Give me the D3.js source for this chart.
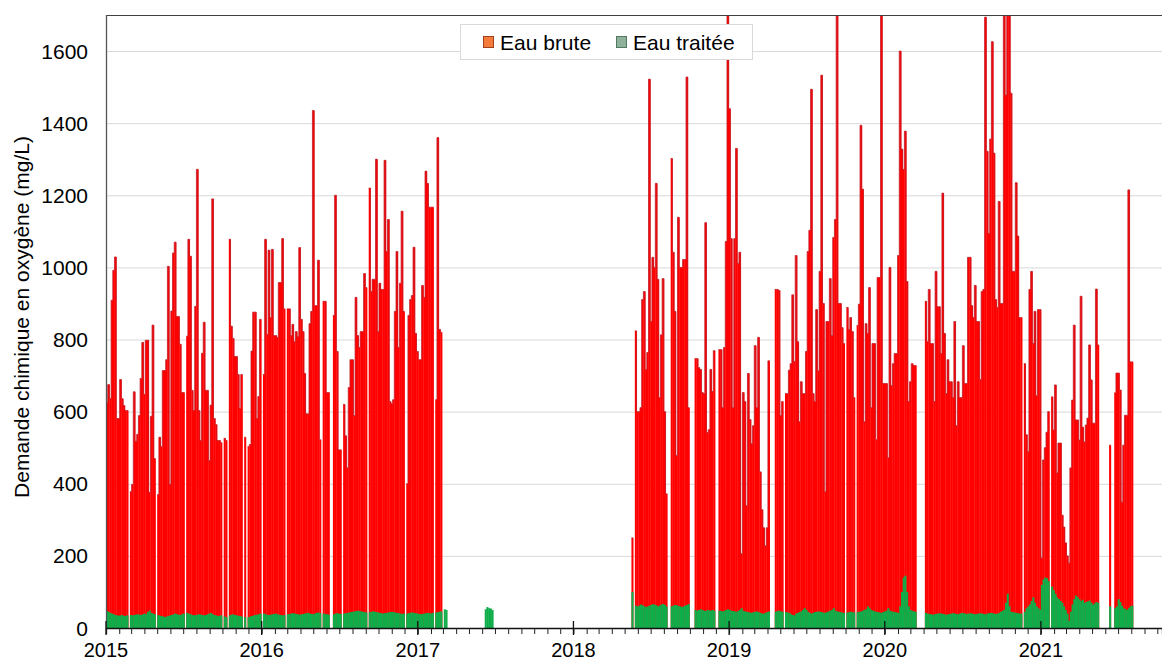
<!DOCTYPE html>
<html><head><meta charset="utf-8">
<script src="https://cdn.jsdelivr.net/npm/d3@7"></script>
<style>
body{margin:0;background:#fff}
svg text{font-family:"Liberation Sans",Arial,sans-serif;fill:#000}
</style>
</head><body>
<svg id="chart" width="1162" height="663"></svg>
<script>
// ---------------- DATA (one value every 4 days, from each segment start) ----------------
const stepDays = 4;
const segmentStarts = ["2015-01-01", "2017-06-07", "2018-05-17"];

const eauBrute2015 = [
625,675,636,909,992,1029,581,581,689,636,
617,603,603,null,378,398,655,518,537,589,
692,792,648,798,798,376,587,840,470,null,
370,529,503,714,714,744,1003,398,879,1040,
1070,864,864,787,653,653,null,809,1078,1031,
659,603,892,1272,603,520,762,848,659,659,
464,618,1190,581,564,520,520,514,null,526,
520,null,1078,837,803,753,753,703,609,703,
null,529,null,503,509,768,876,876,581,642,
856,null,703,1078,814,1048,861,1050,811,811,
806,958,958,1080,885,null,885,885,811,842,
794,822,808,1055,856,822,706,594,594,844,
878,1435,894,894,1020,522,null,906,906,653,
653,null,null,867,1200,767,494,494,null,620,
533,444,667,744,744,589,917,811,778,822,
822,983,944,null,1220,933,967,967,1300,822,
956,939,939,1297,1044,1133,628,622,633,878,
1044,778,956,1156,878,null,400,867,911,922,
1056,817,767,744,744,950,917,1267,1233,1167,
1167,1167,null,633,1360,828,820,null,null,null];

const eauTraitee2015 = [
47,45,42,40,38,36,35,34,35,36,
33,34,35,null,36,35,36,37,38,37,
36,38,40,38,45,48,42,40,38,null,
36,34,33,32,30,32,33,35,36,38,
40,38,37,36,38,40,null,42,40,38,
36,35,36,37,38,37,36,35,36,38,
40,42,38,36,35,33,34,35,null,32,
30,null,35,37,38,36,35,34,33,32,
null,30,null,30,32,33,35,36,37,38,
40,null,40,38,37,36,37,38,39,40,
38,37,36,35,36,null,38,39,40,41,
40,39,38,37,38,39,40,41,42,40,
39,38,40,42,43,41,null,40,39,38,
37,null,null,38,40,41,40,39,null,40,
41,42,43,44,45,46,47,48,47,46,
45,44,43,null,44,45,46,45,44,43,
42,41,40,41,42,43,44,45,44,43,
42,41,40,39,40,null,40,41,42,43,
42,41,40,39,38,39,40,41,42,41,
40,42,null,43,44,45,46,null,52,50];

const eauBrute2017 = [null,null,null,null,null];
const eauTraitee2017 = [52,58,55,54,50];

const eauBrute2018 = [
250,null,824,600,600,611,911,933,717,764,
1522,850,1028,1000,1233,967,639,813,969,600,
372,null,null,1302,1042,878,478,1139,1000,1000,
1022,1022,1528,611,null,null,null,747,747,722,
717,653,650,1124,542,550,717,656,769,null,
null,772,772,611,778,1072,1760,1440,1080,611,
1080,1330,1011,1042,206,653,628,339,706,578,
511,561,783,611,806,433,328,278,228,278,
741,null,null,null,939,939,936,589,628,null,
650,650,715,733,924,739,1033,794,572,683,
650,650,767,1044,1103,1494,650,628,883,713,
989,1533,900,378,850,850,969,811,1083,1133,
1760,900,900,833,789,null,889,828,861,822,
639,null,839,898,1394,1217,572,844,817,944,
611,789,789,522,972,972,1760,678,678,678,
472,1000,672,733,761,761,1033,1600,1328,1272,
1378,961,628,683,733,728,728,null,null,null,
null,null,906,794,939,789,789,628,989,891,
891,761,1206,817,650,744,683,683,639,850,
561,683,639,639,783,678,678,1028,1028,894,
861,950,850,850,689,933,939,1694,1322,1094,
1356,1626,1317,911,889,1183,900,900,1760,1478,
1760,1760,1483,989,989,1235,1087,861,861,null,
733,536,489,939,989,789,878,644,883,883,
194,466,500,543,600,null,641,549,674,430,
513,513,313,280,236,200,180,444,632,840,
577,577,521,920,557,516,563,582,785,688,
568,568,940,785,null,null,null,null,null,null,
507,null,null,652,707,707,660,349,507,590,
590,1215,738,738];

const eauTraitee2018 = [
100,null,62,60,62,65,63,60,58,60,
62,64,66,65,63,60,62,65,67,64,
60,null,null,60,62,64,63,61,60,58,
60,62,64,66,null,null,null,50,48,50,
52,50,48,47,50,49,48,50,48,null,
null,48,47,46,48,50,52,50,48,47,
46,45,47,50,55,48,46,45,44,43,
42,44,45,46,44,42,40,40,42,44,
46,null,null,null,45,47,48,46,45,null,
44,43,42,38,36,35,40,42,44,46,
50,55,50,45,42,40,42,44,45,46,
45,44,43,42,44,46,48,50,55,48,
46,45,44,43,42,null,43,44,45,44,
43,null,44,45,46,48,50,52,60,55,
50,48,46,45,44,43,42,44,46,48,
55,48,46,45,44,43,42,60,100,140,
145,100,60,50,48,46,45,null,null,null,
null,null,42,40,39,38,37,38,39,40,
41,40,39,38,37,38,39,40,41,40,
39,38,40,42,41,40,39,40,41,40,
39,38,39,40,41,40,39,38,40,41,
42,41,40,39,40,42,45,48,50,70,
95,60,45,44,43,42,41,40,40,null,
45,55,60,65,75,85,70,60,55,50,
120,135,140,138,130,null,115,105,95,85,
80,75,70,60,50,40,20,45,65,80,
90,85,80,75,78,70,72,74,76,70,
65,68,72,70,null,null,null,null,null,null,
60,null,null,55,60,80,72,62,55,52,
50,55,60,62];

const yTicks = [0,200,400,600,800,1000,1200,1400,1600];
const yearLabels = ["2015","2016","2017","2018","2019","2020","2021"];
const legendLabels = ["Eau brute","Eau traitée"];
const yTitle = "Demande chimique en oxygène (mg/L)";

// ---------------- CHART ----------------
(function(){
const parse = d3.utcParse("%Y-%m-%d");
const pLeft = 106, pRight = 1162, pTop = 15, pBottom = 628;
const x = d3.scaleUtc().domain([parse("2015-01-01"), parse("2021-10-12")]).range([pLeft, pRight]);
const y = d3.scaleLinear().domain([0, 1700]).range([pBottom, pTop]);

const svg = d3.select("#chart");
svg.append("defs").append("clipPath").attr("id","plot")
  .append("rect").attr("x",pLeft).attr("y",pTop).attr("width",pRight-pLeft).attr("height",pBottom-pTop);

// gridlines
svg.append("g").attr("transform",`translate(${pLeft},0)`)
  .call(d3.axisLeft(y).tickValues(yTicks.filter(v=>v>0)).tickSize(-(pRight-pLeft)).tickFormat(""))
  .call(g=>g.select(".domain").remove())
  .call(g=>g.selectAll("line").attr("stroke","#d9d9d9").attr("stroke-width",1));

const segments = [
  {start: segmentStarts[0], brute: eauBrute2015, traitee: eauTraitee2015},
  {start: segmentStarts[1], brute: eauBrute2017, traitee: eauTraitee2017},
  {start: segmentStarts[2], brute: eauBrute2018, traitee: eauTraitee2018}
];

function toPoints(seg, key){
  const s = parse(seg.start);
  return seg[key].map((v,i)=>({v, d0: d3.utcDay.offset(s, i*stepDays), d1: d3.utcDay.offset(s, (i+1)*stepDays)}));
}

const plot = svg.append("g").attr("clip-path","url(#plot)");
const redG = plot.append("g");
const edgeG = plot.append("g");
const greenG = plot.append("g");

segments.forEach(seg=>{
  const red = toPoints(seg,"brute").filter(p=>p.v!=null);
  redG.selectAll(null).data(red).enter().append("rect")
    .attr("x",p=>x(p.d0)).attr("width",p=>x(p.d1)-x(p.d0)+0.35)
    .attr("y",p=>y(p.v)).attr("height",p=>y(0)-y(p.v))
    .attr("fill","#ff0000");
  const all = toPoints(seg,"brute");
  let path = "", open = false;
  all.forEach(p=>{
    if(p.v==null){ open=false; return; }
    if(!open){ path += `M${x(p.d0)},${y(p.v)}`; open=true; }
    else path += `V${y(p.v)}`;
    path += `H${x(p.d1)}`;
  });
  if(path) edgeG.append("path").attr("d",path).attr("fill","none")
    .attr("stroke","#c0202a").attr("stroke-width",0.8);

  const green = toPoints(seg,"traitee").filter(p=>p.v!=null);
  greenG.selectAll(null).data(green).enter().append("rect")
    .attr("x",p=>x(p.d0)).attr("width",p=>x(p.d1)-x(p.d0)+0.35)
    .attr("y",p=>y(p.v)).attr("height",p=>y(0)-y(p.v))
    .attr("fill","#0fae4b");
});

// frame: top and left
svg.append("line").attr("x1",pLeft).attr("x2",pRight).attr("y1",pTop+0.5).attr("y2",pTop+0.5)
  .attr("stroke","#404040").attr("stroke-width",1.2);
svg.append("line").attr("x1",pLeft+0.5).attr("x2",pLeft+0.5).attr("y1",pTop).attr("y2",pBottom)
  .attr("stroke","#555").attr("stroke-width",1.3);

// y labels
svg.append("g").selectAll("text").data(yTicks).enter().append("text")
  .attr("x",88).attr("y",d=>y(d)).attr("dy","0.36em")
  .attr("text-anchor","end").attr("font-size",21).text(d=>d);

// x axis
const monthTicks = d3.utcMonth.range(parse("2015-01-01"), parse("2021-10-12"));
svg.append("g").attr("transform",`translate(0,${pBottom})`)
  .call(d3.axisBottom(x).tickValues(monthTicks).tickSize(6).tickFormat(""))
  .call(g=>g.select(".domain").attr("stroke","#111").attr("stroke-width",1.3))
  .call(g=>g.selectAll(".tick line").attr("stroke","#222"));
const years = yearLabels.map(s=>parse(s+"-01-01"));
svg.append("g").selectAll("line").data(years).enter().append("line")
  .attr("x1",d=>x(d)).attr("x2",d=>x(d)).attr("y1",pBottom-7).attr("y2",pBottom+7)
  .attr("stroke","#111").attr("stroke-width",1.3);
svg.append("g").selectAll("text").data(yearLabels).enter().append("text")
  .attr("x",d=>x(parse(d+"-01-01"))).attr("y",657)
  .attr("text-anchor","middle").attr("font-size",20).text(d=>d);

// y title
svg.append("text").attr("transform","translate(21,317) rotate(-90)")
  .attr("text-anchor","middle").attr("dominant-baseline","central")
  .attr("font-size",21).text(yTitle);

// legend
const lg = svg.append("g");
lg.append("rect").attr("x",460.5).attr("y",24.5).attr("width",292).attr("height",35)
  .attr("fill","#fff").attr("stroke","#d9d9d9");
const legendColors = [["#f47b3a","#a0401e"],["#8fb19b","#4f7a60"]];
const legendX = [483, 616];
legendLabels.forEach((t,i)=>{
  lg.append("rect").attr("x",legendX[i]+0.5).attr("y",36.5).attr("width",10).attr("height",11)
    .attr("fill",legendColors[i][0]).attr("stroke",legendColors[i][1]);
  lg.append("text").attr("x",legendX[i]+17).attr("y",50).attr("font-size",21).text(t);
});
})();
</script>
</body></html>
